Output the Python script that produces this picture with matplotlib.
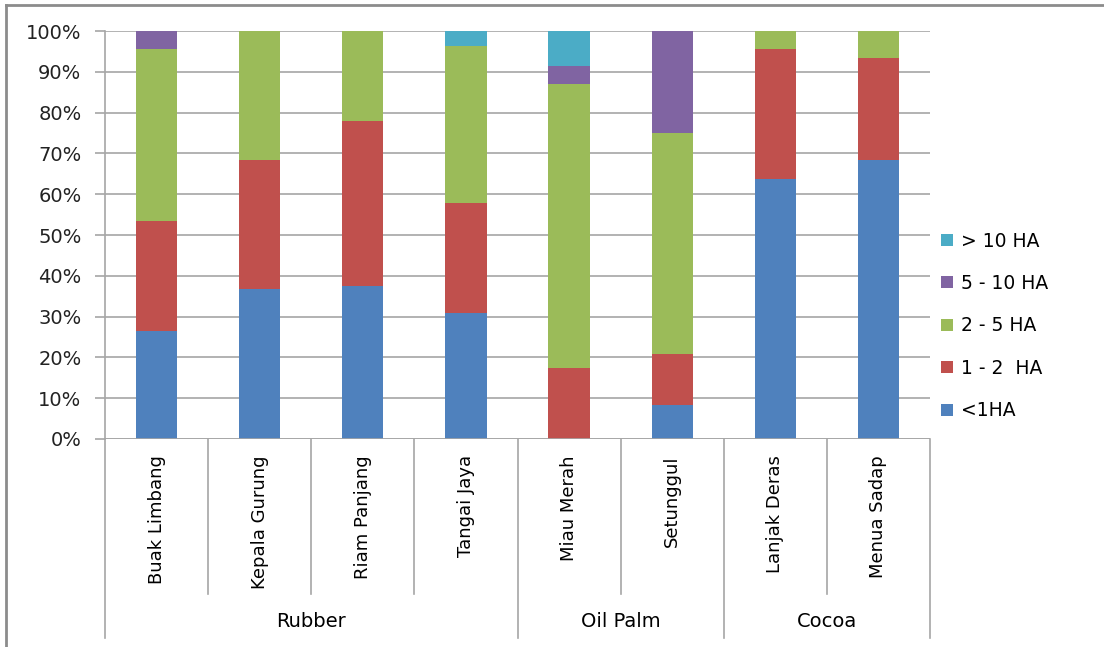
import matplotlib.pyplot as plt
from matplotlib.lines import Line2D
import numpy as np

villages = ["Buak Limbang", "Kepala Gurung", "Riam Panjang", "Tangai Jaya",
            "Miau Merah", "Setunggul", "Lanjak Deras", "Menua Sadap"]
crops = ["Rubber", "Oil Palm", "Cocoa"]
crop_counts = [4, 2, 2]

# percent of farmers per land-size class
lt1 = [26.5, 36.8, 37.5, 30.9, 0.0, 8.3, 63.7, 68.4]
ha1_2 = [27.0, 31.6, 40.4, 26.9, 17.4, 12.5, 31.9, 25.0]
ha2_5 = [42.1, 31.6, 22.1, 38.5, 69.6, 54.2, 4.4, 6.6]
ha5_10 = [4.4, 0.0, 0.0, 0.0, 4.4, 25.0, 0.0, 0.0]
gt10 = [0.0, 0.0, 0.0, 3.7, 8.6, 0.0, 0.0, 0.0]

labels = ["<1HA", "1 - 2  HA", "2 - 5 HA", "5 - 10 HA", "> 10 HA"]
colors = ["#4F81BD", "#C0504D", "#9BBB59", "#8064A2", "#4BACC6"]
series = [lt1, ha1_2, ha2_5, ha5_10, gt10]

fig = plt.figure(figsize=(11.04, 6.47), dpi=100)
ax = fig.add_axes([105/1104, 1-439/647, 825/1104, 408/647])

x = np.arange(len(villages))
bottom = np.zeros(len(villages))
handles = []
for vals, c, lab in zip(series, colors, labels):
    vals = np.array(vals)
    b = ax.bar(x, vals, 0.4, bottom=bottom, color=c, label=lab, zorder=3)
    handles.append(b)
    bottom = bottom + vals

ax.set_xlim(-0.5, len(villages) - 0.5)
ax.set_ylim(0, 100)
ax.set_yticks(np.arange(0, 101, 10))
ax.set_yticklabels([f"{v}%" for v in range(0, 101, 10)], fontsize=14, color="#222222")
ax.yaxis.grid(True, color="#a6a6a6", linewidth=1.2, zorder=0)
ax.tick_params(axis="y", length=7, color="#a6a6a6", width=1.2, pad=10)
ax.set_xticks([])
for s in ["top", "right", "bottom"]:
    ax.spines[s].set_visible(False)
ax.spines["left"].set_color("#a6a6a6")
ax.spines["left"].set_linewidth(1.2)
ax.axhline(0, color="#a6a6a6", linewidth=1.2, zorder=4)

# category labels and separators below the axis
trans = ax.get_xaxis_transform()
for i, v in enumerate(villages):
    ax.text(i, -0.04, v, rotation=90, ha="center", va="top", fontsize=13,
            transform=trans)
group_edges = np.cumsum([0] + crop_counts) - 0.5
for edge in np.arange(-0.5, len(villages)):
    low = -0.488 if edge in group_edges else -0.38
    ax.add_line(Line2D([edge, edge], [0, low], transform=trans, color="#a6a6a6",
                       linewidth=1.2, clip_on=False))
for k, crop in enumerate(crops):
    mid = (group_edges[k] + group_edges[k + 1]) / 2
    ax.text(mid, -0.447, crop, ha="center", va="center", fontsize=14,
            transform=trans)

leg = ax.legend(handles[::-1], labels[::-1], loc="center left",
                bbox_to_anchor=(1.0, 0.277), frameon=False, fontsize=13.5,
                handlelength=0.6, handleheight=0.6, labelspacing=1.25,
                handletextpad=0.45, borderaxespad=0.2)

# outer chart frame
fig.add_artist(Line2D([6/1104, 6/1104], [0, 1-5/647], color="#8c8c8c", linewidth=2,
                      transform=fig.transFigure))
fig.add_artist(Line2D([6/1104, 1], [1-5/647, 1-5/647], color="#8c8c8c", linewidth=2,
                      transform=fig.transFigure))

fig.savefig("out.png", dpi=100)
